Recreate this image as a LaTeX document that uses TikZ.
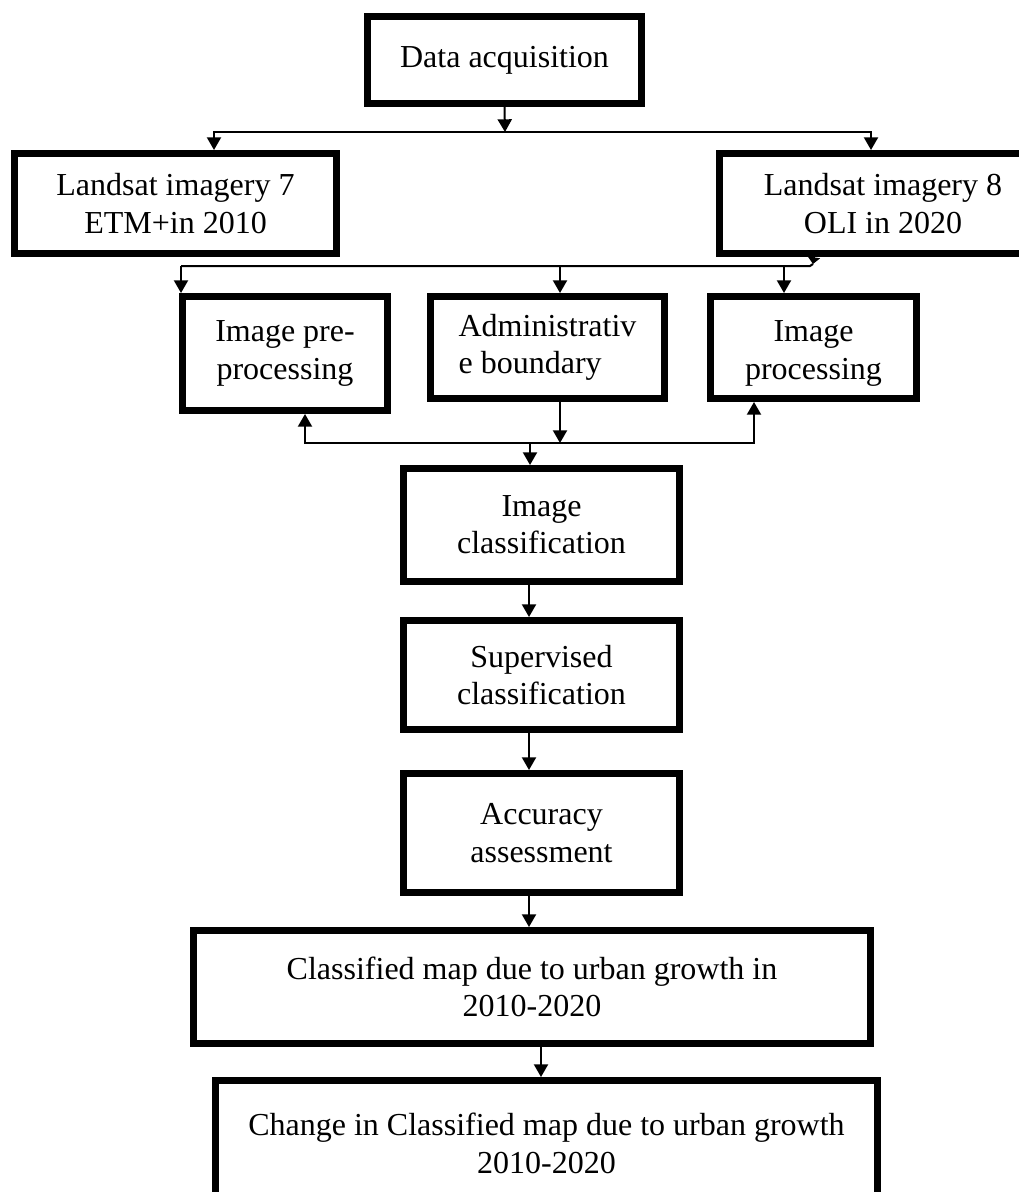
\documentclass[tikz,border=0pt]{standalone}
\usepackage{fontspec}
\setmainfont{Liberation Serif}
\usetikzlibrary{arrows.meta}
\begin{document}
\begin{tikzpicture}[x=0.75pt,y=-0.75pt,
  box/.style={draw, line width=5.25pt, rectangle, inner sep=0pt, align=center,
              font=\fontsize{24}{28}\selectfont},
  conn/.style={line width=1.5pt},
  arr/.style={conn, -{Triangle[width=10.5pt,length=9.5pt]}},
  sarr/.style={conn, -{Triangle[width=9pt,length=5pt]}}]
\useasboundingbox (0,0) rectangle (1019,1192);
\clip (0,0) rectangle (1019,1192);
% boxes
\node[box, minimum width=205.5pt, minimum height=65.25pt] (da) at (504.5,60) {Data acquisition};
\node[box, minimum width=241.5pt, minimum height=75pt] (l7) at (175.5,203.5) {Landsat imagery 7\\ETM+in 2010};
\node[box, minimum width=245.25pt, minimum height=75pt] (l8) at (883,203.5) {Landsat imagery 8\\OLI in 2020};
\node[box, minimum width=153.75pt, minimum height=85.5pt] (pre) at (285,353.5) {Image pre-\\processing};
\node[box, minimum width=175.5pt, minimum height=76.5pt, align=left] (adm) at (547.5,347.5) {Administrativ\\e boundary};
\node[box, minimum width=154.5pt, minimum height=76.5pt,
      label={[font=\fontsize{24}{28}\selectfont, align=center, inner sep=0pt, yshift=-4.5pt]center:Image\\processing}] (proc) at (813.5,347.5) {};
\node[box, minimum width=207pt, minimum height=84.75pt] (cls) at (541.5,525) {Image\\classification};
\node[box, minimum width=207pt, minimum height=81.75pt] (sup) at (541.5,675) {Supervised\\classification};
\node[box, minimum width=207pt, minimum height=89.25pt] (acc) at (541.5,833) {Accuracy\\assessment};
\node[box, minimum width=507.75pt, minimum height=84.75pt] (map) at (532,987) {Classified map due to urban growth in\\2010-2020};
\node[box, minimum width=496.5pt, minimum height=94.5pt] (chg) at (546.5,1143.5) {Change in Classified map due to urban growth\\2010-2020};
% junction points
\coordinate (j1) at (505,132);
\coordinate (tL) at (214,132);
\coordinate (tR) at (871,132);
\coordinate (b8) at (814,257);
\coordinate (b8t) at (813,264);
\coordinate (h1) at (810,266);
\coordinate (h0) at (181,266);
\coordinate (a1) at (560,266);
\coordinate (a2) at (784,266);
\coordinate (g0) at (305,443);
\coordinate (g1) at (754,443);
\coordinate (gA) at (560,443);
\coordinate (gC) at (530,443);
% connectors
\draw[arr] (da.south) -- (j1);
\draw[arr] (j1) -- (tL) -- (tL |- l7.north);
\draw[arr] (j1) -- (tR) -- (tR |- l8.north);
\draw[sarr] (b8) -- (b8t);
\draw[conn] (b8t) -- (h1) -- (h0);
\draw[arr] (h0) -- (h0 |- pre.north);
\draw[arr] (a1) -- (a1 |- adm.north);
\draw[arr] (a2) -- (a2 |- proc.north);
\draw[arr] (gA |- adm.south) -- (gA);
\draw[arr] (gA) -- (g0) -- (g0 |- pre.south);
\draw[arr] (gA) -- (g1) -- (g1 |- proc.south);
\draw[arr] (gC) -- (gC |- cls.north);
\draw[arr] (529,0 |- cls.south) -- (529,0 |- sup.north);
\draw[arr] (529,0 |- sup.south) -- (529,0 |- acc.north);
\draw[arr] (529,0 |- acc.south) -- (529,0 |- map.north);
\draw[arr] (541,0 |- map.south) -- (541,0 |- chg.north);
\end{tikzpicture}
\end{document}
